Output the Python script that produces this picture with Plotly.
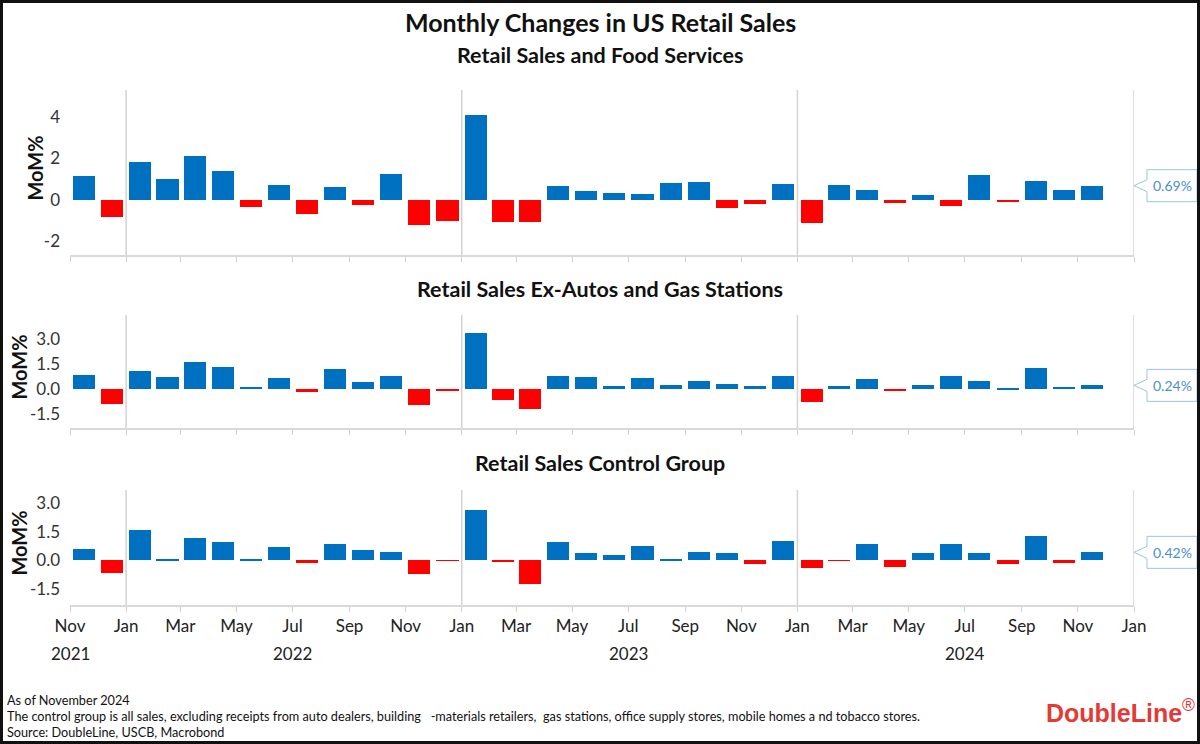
import pandas as pd
import plotly.graph_objects as go

# ---------------- data ----------------
months = pd.date_range("2021-11-01", periods=37, freq="MS")

retail_food = [1.16, -0.84, 1.85, 1.01, 2.12, 1.40, -0.32, 0.71, -0.69, 0.61, -0.26, 1.27, -1.19, -1.03,
               4.11, -1.08, -1.08, 0.67, 0.45, 0.32, 0.27, 0.82, 0.87, -0.39, -0.18, 0.76,
               -1.09, 0.71, 0.47, -0.16, 0.22, -0.27, 1.22, -0.10, 0.92, 0.47, 0.69]
ex_autos_gas = [0.84, -0.86, 1.12, 0.76, 1.66, 1.36, 0.12, 0.70, -0.16, 1.20, 0.42, 0.78, -0.96, -0.10,
                3.38, -0.62, -1.18, 0.78, 0.74, 0.20, 0.68, 0.28, 0.50, 0.30, 0.18, 0.80,
                -0.78, 0.18, 0.62, -0.12, 0.28, 0.78, 0.52, 0.03, 1.26, 0.16, 0.24]
control_group = [0.61, -0.67, 1.58, 0.09, 1.19, 0.98, 0.09, 0.70, -0.14, 0.86, 0.56, 0.46, -0.70, -0.03,
                 2.65, -0.05, -1.23, 0.98, 0.39, 0.30, 0.77, 0.09, 0.44, 0.40, -0.18, 1.02,
                 -0.42, -0.02, 0.88, -0.33, 0.40, 0.86, 0.40, -0.18, 1.28, -0.12, 0.42]

panel_titles = ["Retail Sales and Food Services", "Retail Sales Ex-Autos and Gas Stations",
                "Retail Sales Control Group"]
tick_dates = pd.date_range("2021-11-01", "2025-01-01", freq="2MS")
tick_text = [d.strftime("%b") for d in tick_dates]
year_labels = ["2021", "2022", "2023", "2024"]
year_label_dates = ["2021-11-01", "2022-07-01", "2023-07-01", "2024-07-01"]
jan_lines = ["2022-01-01", "2023-01-01", "2024-01-01", "2025-01-01"]

y_ranges = [[-2.65, 5.30], [-2.32, 4.46], [-2.35, 3.70]]
y_ticks = [[-2, 0, 2, 4], [-1.5, 0, 1.5, 3.0], [-1.5, 0, 1.5, 3.0]]
y_ticktext = [["-2", "0", "2", "4"], ["-1.5", "0.0", "1.5", "3.0"], ["-1.5", "0.0", "1.5", "3.0"]]

# ---------------- geometry (pixels) ----------------
W, H = 1200, 744
L, R = 70, 1134          # plot area left / right
T, B = 90, 605           # plot area top / bottom
panel_px = [(90, 255), (315, 428), (490, 605)]
ytitle_px = [34, 18, 18]

BLUE = "#0070C0"
RED = "#FF0000"
FONT = "Lato"


def px2x(px):
    return (px - L) / (R - L)


def py2y(py):
    return (B - py) / (B - T)


fig = go.Figure()
series = [retail_food, ex_autos_gas, control_group]
shapes = []
annotations = []

for i, vals in enumerate(series):
    n = "" if i == 0 else str(i + 1)
    colors = [BLUE if v >= 0 else RED for v in vals]
    fig.add_trace(go.Bar(
        x=months, y=vals, xaxis="x" + n, yaxis="y" + n,
        xperiod="M1", xperiodalignment="middle",
        width=24 * 86400000,
        marker=dict(color=colors, line=dict(width=0)),
        showlegend=False, hoverinfo="x+y",
    ))
    top, bot = panel_px[i]
    dom = [py2y(bot), py2y(top)]
    show_labels = (i == 2)
    fig.layout["xaxis" + n] = dict(
        domain=[0, 1], anchor="y" + n, type="date",
        range=["2021-11-01", "2025-01-01"],
        tickvals=tick_dates, ticktext=tick_text,
        showticklabels=show_labels,
        ticks="outside", ticklen=5, tickcolor="#D0D0D0", tickwidth=1,
        showline=True, linecolor="#D9D9D9", linewidth=1.5,
        showgrid=False, zeroline=False,
        tickfont=dict(family=FONT, size=17, color="#222222"),
    )
    fig.layout["yaxis" + n] = dict(
        domain=dom, anchor="x" + n, range=y_ranges[i],
        tickvals=y_ticks[i], ticktext=y_ticktext[i],
        showgrid=False, zeroline=False, showline=False,
        ticks="", ticklabelstandoff=9,
        tickfont=dict(family=FONT, size=17, color="#333333"),
    )
    # January vertical lines
    for d in jan_lines:
        shapes.append(dict(type="line", xref="x" + n, yref="y" + n + " domain",
                           x0=d, x1=d, y0=0, y1=1,
                           line=dict(color="#D3D3D3", width=1.5), layer="below"))
    # y-axis title
    annotations.append(dict(text="<b>MoM%</b>", textangle=-90, xref="paper", yref="paper",
                            x=px2x(ytitle_px[i]), y=py2y((top + bot) / 2 - 4), showarrow=False,
                            xanchor="center", yanchor="middle",
                            font=dict(family=FONT, size=20, color="#111111")))
    # panel title
    title_y = [55, 289, 463][i]
    annotations.append(dict(text="<b>" + panel_titles[i] + "</b>", xref="paper", yref="paper",
                            x=px2x(600), y=py2y(title_y), showarrow=False,
                            xanchor="center", yanchor="middle",
                            font=dict(family=FONT, size=21.5, color="#111111")))
    # callout for last value
    last = vals[-1]
    ppu = (bot - top) / (y_ranges[i][1] - y_ranges[i][0])
    cy = top + (y_ranges[i][1] - last) * ppu
    bx0, bx1, tip = 1147, 1197, 1134
    hh, ph = 16, 6
    pts = [(tip, cy), (bx0, cy - ph), (bx0, cy - hh), (bx1, cy - hh), (bx1, cy + hh),
           (bx0, cy + hh), (bx0, cy + ph)]
    path = "M " + " L ".join(f"{px2x(px):.5f},{py2y(py):.5f}" for px, py in pts) + " Z"
    shapes.append(dict(type="path", xref="paper", yref="paper", path=path,
                       fillcolor="white", line=dict(color="#9DC3E6", width=1)))
    annotations.append(dict(text=f"{last:.2f}%", xref="paper", yref="paper",
                            x=px2x((bx0 + bx1) / 2), y=py2y(cy), showarrow=False,
                            xanchor="center", yanchor="middle",
                            font=dict(family=FONT, size=14, color="#4A8FD0")))

# year labels under the bottom axis
for yl, yd in zip(year_labels, year_label_dates):
    annotations.append(dict(text=yl, xref="x3", yref="paper", x=yd, y=py2y(653),
                            showarrow=False, xanchor="center", yanchor="middle",
                            font=dict(family=FONT, size=17, color="#222222")))

# main title
annotations.append(dict(text="<b>Monthly Changes in US Retail Sales</b>", xref="paper", yref="paper",
                        x=px2x(600), y=py2y(22), showarrow=False, xanchor="center", yanchor="middle",
                        font=dict(family=FONT, size=25, color="#111111")))

# footnotes
foot = ["As of November 2024",
        "The control group is all sales, excluding receipts from auto dealers, building   -materials retailers,  gas stations, office supply stores, mobile homes a nd tobacco stores.",
        "Source: DoubleLine, USCB, Macrobond"]
for k, txt in enumerate(foot):
    annotations.append(dict(text=txt, xref="paper", yref="paper", x=px2x(5), y=py2y(700 + 16 * k),
                            showarrow=False, xanchor="left", yanchor="middle",
                            font=dict(family=FONT, size=12.7, color="#111111")))

# logo text
annotations.append(dict(text="<b>DoubleLine</b><sup>®</sup>", xref="paper", yref="paper",
                        x=px2x(1197), y=py2y(711), showarrow=False, xanchor="right", yanchor="middle",
                        font=dict(family="Liberation Sans", size=25, color="#E53935")))

# outer frame
shapes.append(dict(type="rect", xref="paper", yref="paper",
                   x0=px2x(1.5), x1=px2x(1198.5), y0=py2y(742.5), y1=py2y(1.5),
                   line=dict(color="#111111", width=3), fillcolor="rgba(0,0,0,0)"))

fig.update_layout(
    width=W, height=H,
    margin=dict(l=L, r=W - R, t=T, b=H - B, pad=0),
    paper_bgcolor="white", plot_bgcolor="white",
    bargap=0, barmode="overlay",
    shapes=shapes, annotations=annotations,
    font=dict(family=FONT),
)

fig.write_html("out.html")
